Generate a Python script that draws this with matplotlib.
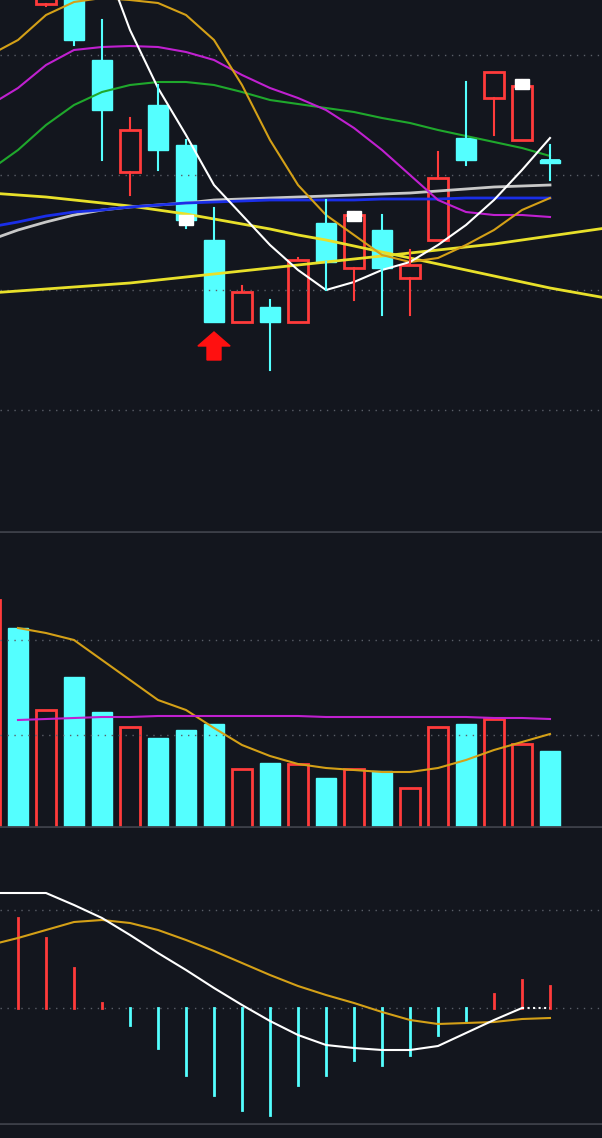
import matplotlib
matplotlib.use("Agg")
import matplotlib.pyplot as plt
from matplotlib.patches import Rectangle, FancyArrow
import numpy as np

BG = "#13161e"
CYAN = "#54ffff"
RED = "#ff3b3b"

# candle index 1..20 ; price panel values (screen units, larger = lower price)
c_idx = list(range(1, 21))
c_high = [-70, -40, -20, 20, 118, 85, 140, 208, 286, 300, 258, 200, 212, 215, 250, 152, 82, 72, 80, 145]
c_low = [-20, 6, 45, 160, 195, 170, 228, 322, 322, 370, 322, 290, 300, 315, 315, 240, 165, 135, 140, 180]
c_top = [-60, -30, -10, 60, 130, 105, 145, 240, 292, 307, 260, 223, 215, 230, 265, 178, 138, 72, 86, 160]
c_bot = [-20, 4, 40, 110, 172, 150, 220, 322, 322, 322, 322, 262, 268, 268, 278, 240, 160, 98, 140, 163]
c_up = [0, 1, 0, 0, 1, 0, 0, 0, 1, 0, 1, 0, 1, 0, 1, 1, 0, 1, 1, 0]

ma_white = [None]*4 + [-45, 30, 88, 135, 185, 215, 245, 270, 290, 282, 270, 262, 245, 225, 200, 170, 138]
ma_gold = [55, 40, 15, 2, -2, 0, 3, 15, 40, 85, 140, 185, 215, 235, 255, 262, 258, 245, 230, 210, 198]
ma_mag = [105, 88, 65, 50, 47, 46, 47, 52, 60, 75, 88, 98, 110, 128, 150, 175, 200, 212, 215, 215, 217]
ma_green = [170, 150, 125, 105, 92, 85, 82, 82, 85, 92, 100, 104, 108, 112, 118, 123, 130, 136, 142, 148, 156]
ma_gray = [240, 230, 222, 215, 210, 207, 205, 203, 200, 199, 198, 197, 196, 195, 194, 193, 191, 189, 187, 186, 185]
ma_blue = [227, 222, 216, 212, 210, 207, 205, 203, 202, 201, 200, 200, 200, 200, 199, 199, 199, 198, 198, 198, 198]
ma_y1 = [193, 195, 197, 200, 203, 206, 210, 214, 219, 224, 229, 235, 240, 246, 252, 258, 264, 270, 276, 282, 288, 293, 298]
ma_y2 = [293, 291, 289, 287, 285, 283, 280, 277, 274, 271, 268, 265, 262, 259, 256, 253, 250, 247, 244, 240, 236, 232, 228]

# volume (height above base)
vol = [228, 200, 118, 151, 116, 101, 90, 98, 104, 59, 65, 64, 50, 59, 57, 40, 101, 104, 109, 84, 77]
vol_up = [1, 0, 1, 0, 0, 1, 0, 0, 0, 1, 0, 1, 0, 1, 0, 1, 1, 0, 1, 1, 0]
vol_ma1 = [198, 200, 195, 188, 168, 148, 128, 118, 100, 83, 72, 64, 60, 58, 56, 56, 60, 68, 78, 86, 94]
vol_ma2 = [108, 108, 109, 110, 111, 111, 112, 112, 112, 112, 112, 112, 111, 111, 111, 111, 111, 111, 110, 110, 109]

# MACD
macd_hist = [None, 90, 70, 40, 5, -17, -40, -67, -87, -102, -107, -77, -67, -52, -57, -47, -27, -12, 14, 28, 22]
dif = [115, 115, 115, 103, 90, 73, 55, 38, 20, 3, -13, -27, -37, -40, -42, -42, -38, -25, -12, 0, 0]
dea = [63, 70, 78, 86, 88, 85, 78, 68, 57, 45, 33, 22, 13, 5, -4, -12, -16, -15, -14, -11, -10]

W, H = 602, 1138
fig = plt.figure(figsize=(W/100, H/100), dpi=100, facecolor=BG)
xl = (10/28, 612/28)

def mkax(top, bot):
    ax = fig.add_axes([0, 1-bot/H, 1, (bot-top)/H])
    ax.set_facecolor(BG)
    ax.set_xlim(*xl)
    ax.axis("off")
    return ax

# price
ax = mkax(0, 533)
ax.set_ylim(533, 0)
for g in [55, 175, 290, 410]:
    ax.axhline(g, color="#5a5e68", lw=1, ls=(0, (1, 4)))
x = np.arange(21)
ax.plot(np.arange(23), ma_y1, color="#e8e02a", lw=2)
ax.plot(np.arange(23), ma_y2, color="#e8e02a", lw=2)
ax.plot(x, ma_gray, color="#c8c8c8", lw=2)
ax.plot(x, ma_blue, color="#1a2ee8", lw=2)
ax.plot(x, ma_green, color="#1fa82c", lw=1.5)
ax.plot(x, ma_mag, color="#c020d0", lw=1.5)
ax.plot(x, ma_gold, color="#d4a017", lw=1.5)
ax.plot(x, [np.nan if v is None else v for v in ma_white], color="white", lw=1.5)
bw = 0.72
for i, h, l, t, b, up in zip(c_idx, c_high, c_low, c_top, c_bot, c_up):
    col = RED if up else CYAN
    ax.plot([i, i], [h, t], color=col, lw=1.5)
    ax.plot([i, i], [b, l], color=col, lw=1.5)
    if up:
        ax.add_patch(Rectangle((i-bw/2, t), bw, b-t, fill=False, ec=col, lw=2))
    else:
        ax.add_patch(Rectangle((i-bw/2, t), bw, max(b-t, 2), color=col))
        if b - t < 5:
            ax.plot([i-0.3, i+0.3], [t, t], color=col, lw=2)
for i, y in [(7, 220), (13, 216), (19, 84)]:
    ax.add_patch(Rectangle((i-0.25, y-5), 0.5, 10, color="white", zorder=5))
ax.add_patch(FancyArrow(8, 360, 0, -28, width=0.5, head_width=1.15, head_length=14,
                        length_includes_head=True, color="#ff1010"))
ax.axhline(532, color="#3c3f48", lw=2)

# volume
av = mkax(535, 828)
av.set_ylim(0, 293)
for g in [188, 93]:
    av.axhline(g, color="#5a5e68", lw=1, ls=(0, (1, 4)))
for i, v, up in zip(x, vol, vol_up):
    if up:
        av.add_patch(Rectangle((i-bw/2, 0), bw, v, fill=False, ec=RED, lw=2))
    else:
        av.add_patch(Rectangle((i-bw/2, 0), bw, v, color=CYAN))
av.plot(x[1:], vol_ma1[1:], color="#d4a017", lw=1.5)
av.plot(x[1:], vol_ma2[1:], color="#c020d0", lw=1.5)
av.axhline(1, color="#3c3f48", lw=2)

# MACD
am = mkax(830, 1125)
am.set_ylim(-117, 178)
am.axhline(98, color="#5a5e68", lw=1, ls=(0, (1, 4)))
am.axhline(0, color="#5a5e68", lw=1, ls=(0, (1, 4)))
for i, v in zip(x, macd_hist):
    if v is None:
        continue
    am.plot([i, i], [0, v], color=RED if v > 0 else CYAN, lw=2)
am.plot(x, dea, color="#d4a017", lw=1.5)
am.plot(x[:20], dif[:20], color="white", lw=1.5)
am.plot(x[19:], dif[19:], color="white", lw=1.5, ls=":")
am.axhline(-116, color="#3c3f48", lw=2)

fig.savefig("out.png", dpi=100, facecolor=BG)
